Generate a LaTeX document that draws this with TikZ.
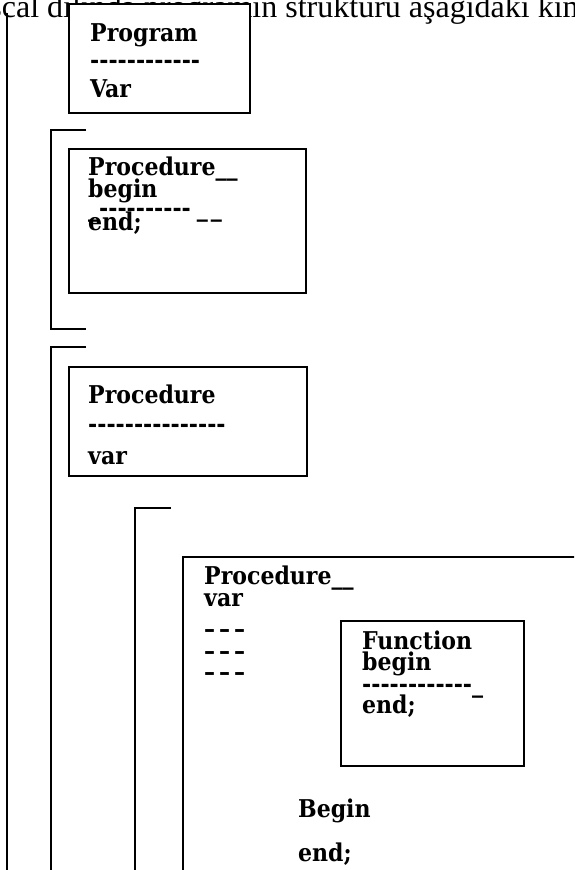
\documentclass[tikz,border=0pt]{standalone}
\usepackage{fontspec}
\setmainfont{Liberation Serif}
\newfontfamily\boxfont{DejaVu Serif Condensed}

% a row of separate hyphens (kept apart so they never join into dashes)
\newcount\hyphcount
\newcommand\hyrow[1]{\hyphcount=0 \loop\ifnum\hyphcount<#1 \mbox{-}\advance\hyphcount by 1 \repeat}

\tikzset{
  frame/.style={draw, line width=2.4pt, fill=white, inner sep=0pt, anchor=north west},
  rule/.style={line width=2.4pt},
  code/.style={font=\boxfont\bfseries\fontsize{24.5}{24.5}\selectfont, inner sep=0pt, anchor=base west},
  head/.style={font=\fontsize{32}{32}\selectfont, inner sep=0pt, anchor=base west},
}

\begin{document}
\begin{tikzpicture}[x=1pt,y=-1pt]
\useasboundingbox (0,0) rectangle (574,870);
\clip (0,0) rectangle (574,870);

% heading line of the text, partly covered by the program box
\node[head] (title) at (-42.8,17) {Pascal dilində proqramın strukturu aşağıdakı kimidir};

% outer bracket of the whole program
\draw[rule] (7,13) -- (7,880);

% program header
\node[frame, minimum width=181pt, minimum height=109pt] (progbox) at (68,3) {};
\node[code] (progname) at (90,41) {Program};
\node[code] (progdash) at (90,68) {\hyrow{12}};
\node[code] (progvar)  at (90,97) {Var};

% first procedure
\draw[rule] (86,130) -- (51,130) -- (51,329) -- (86,329);
\node[frame, minimum width=237pt, minimum height=144pt] (procA) at (68,148) {};
\node[code] (procAname)  at (88,175) {Procedure\_\_};
\node[code] (procAbegin) at (88,197) {begin};
\node[code] (procAdash)  at (88,216) {\_\hyrow{10}\hspace{6pt}\_\hspace{3pt}\_};
\node[code] (procAend)   at (88,230) {end;};

% second procedure
\draw[rule] (86,347) -- (51,347) -- (51,880);
\node[frame, minimum width=238pt, minimum height=109pt] (procB) at (68,366) {};
\node[code] (procBname) at (88,403) {Procedure};
\node[code] (procBdash) at (88,432) {\hyrow{15}};
\node[code] (procBvar)  at (88,464) {var};

% nested procedure
\draw[rule] (171,508) -- (135,508) -- (135,880);
\draw[rule] (590,557) -- (183,557) -- (183,880);
\node[code] (procCname) at (204,584) {Procedure\_\_};
\node[code] (procCvar)  at (204,606) {var};
\node[code] (procCd1)   at (204,637) {–\hspace{4pt}–\hspace{4pt}–};
\node[code] (procCd2)   at (204,659) {–\hspace{4pt}–\hspace{4pt}–};
\node[code] (procCd3)   at (204,680) {–\hspace{4pt}–\hspace{4pt}–};

% function inside the nested procedure
\node[frame, minimum width=183pt, minimum height=145pt] (func) at (340,620) {};
\node[code] (funcname)  at (362,649) {Function};
\node[code] (funcbegin) at (362,670) {begin};
\node[code] (funcdash)  at (362,692) {\hyrow{12}\_};
\node[code] (funcend)   at (362,713) {end;};

% body of the nested procedure
\node[code] (bodybegin) at (298,817) {Begin};
\node[code] (bodyend)   at (298,861) {end;};
\end{tikzpicture}
\end{document}
